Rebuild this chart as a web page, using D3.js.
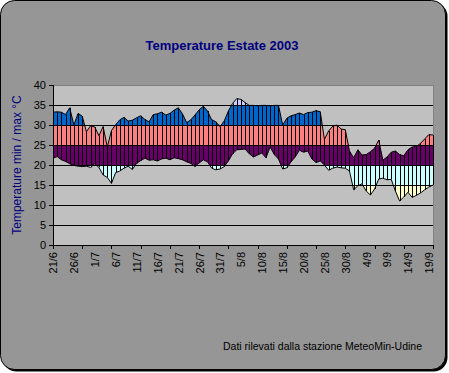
<!DOCTYPE html>
<html>
<head>
<meta charset="utf-8">
<script src="https://cdn.jsdelivr.net/npm/d3@7"></script>
<style>
  body { margin: 0; background: #fff; }
  svg { display: block; font-family: Arial, "Liberation Sans", sans-serif; }
</style>
</head>
<body>
<svg width="449" height="373"></svg>
<script>
// daily max / min temperatures, 21/6 .. 20/9 2003
var tmax = [33.2, 33.3, 33.2, 32.6, 34.3, 30.0, 32.9, 32.2, 28.3, 29.8,
            29.5, 27.3, 29.6, 24.5, 28.6, 30.1, 31.3, 31.9, 31.0, 31.2,
            31.8, 32.3, 31.4, 30.8, 32.6, 32.8, 33.2, 32.5, 32.9, 33.7,
            34.3, 32.8, 30.6, 31.3, 32.5, 33.8, 34.7, 33.5, 31.3, 30.8,
            29.6, 31.0, 33.5, 35.4, 36.6, 36.4, 35.6, 34.9, 34.9, 34.8,
            34.9, 34.9, 34.8, 34.9, 34.9, 30.0, 31.7, 32.3, 32.6, 33.0,
            32.6, 33.1, 33.2, 33.6, 33.3, 26.4, 28.5, 29.7, 30.0, 29.0,
            28.8, 23.5, 21.8, 23.8, 22.5, 22.6, 23.3, 24.2, 26.2, 21.2,
            22.0, 23.2, 23.5, 22.6, 22.3, 23.8, 24.5, 24.6, 25.4, 26.5,
            27.6, 27.5];
var tmin = [21.7, 22.1, 21.3, 20.9, 20.3, 19.9, 19.7, 19.6, 19.7, 19.4,
            20.3, 19.4, 17.5, 16.9, 15.4, 18.1, 18.5, 19.2, 19.7, 18.9,
            20.4, 21.1, 21.7, 21.2, 21.3, 21.0, 21.5, 21.7, 21.3, 21.8,
            21.6, 21.3, 20.8, 20.4, 19.6, 20.5, 21.3, 20.8, 19.2, 18.8,
            19.0, 19.6, 21.0, 22.8, 23.8, 23.9, 24.0, 22.8, 22.0, 22.5,
            23.0, 21.8, 24.5, 22.6, 21.5, 19.0, 19.3, 20.8, 22.0, 23.7,
            23.2, 23.5, 21.5, 20.6, 21.0, 20.0, 18.7, 19.2, 19.5, 19.3,
            19.2, 18.5, 13.8, 14.8, 15.3, 13.5, 12.5, 14.0, 16.5, 16.7,
            16.3, 16.4, 13.5, 11.0, 12.0, 13.2, 11.9, 12.4, 13.0, 13.8,
            14.5, 15.0];
var tickLabels = ["21/6", "26/6", "1/7", "6/7", "11/7", "16/7", "21/7", "26/7", "31/7",
                  "5/8", "10/8", "15/8", "20/8", "25/8", "30/8", "4/9", "9/9", "14/9", "19/9"];
var bandLimits = [10, 15, 20, 25, 30, 35, 40];
var bandColors = ["#ffffcc", "#ccffff", "#660066", "#ff8080", "#0066cc", "#ccccff"];

var fmt = d3.timeFormat("%-d/%-m");
var days = d3.timeDay.range(new Date(2003, 5, 21), new Date(2003, 8, 21)).map(fmt);

var svg = d3.select("svg"),
    margin = {top: 85, right: 16, bottom: 128, left: 53},
    width = 449 - margin.left - margin.right,
    height = 373 - margin.top - margin.bottom;

// chart background with shadow
svg.append("rect").attr("x", 2.5).attr("y", 2.5).attr("width", 445).attr("height", 369)
    .attr("rx", 14).attr("fill", "#000");
svg.append("rect").attr("x", 0.5).attr("y", 0.5).attr("width", 445).attr("height", 369)
    .attr("rx", 14).attr("fill", "#969696").attr("stroke", "#000");

var x = d3.scalePoint().domain(days).range([0, width]),
    y = d3.scaleLinear().domain([0, 40]).range([height, 0]);

var g = svg.append("g")
    .attr("transform", "translate(" + margin.left + "," + margin.top + ")");

g.append("rect").attr("width", width).attr("height", height)
    .attr("fill", "#c0c0c0").attr("stroke", "#808080").attr("shape-rendering", "crispEdges");

var area = d3.area()
    .x(function(d, i) { return x(days[i]); })
    .y0(function(d, i) { return y(tmin[i]); })
    .y1(function(d) { return y(d); });

var defs = svg.append("defs");
bandColors.forEach(function(c, k) {
  defs.append("clipPath").attr("id", "band" + k)
    .append("rect")
      .attr("x", 0).attr("width", width)
      .attr("y", y(bandLimits[k + 1]))
      .attr("height", y(bandLimits[k]) - y(bandLimits[k + 1]));
  g.append("path")
      .datum(tmax)
      .attr("clip-path", "url(#band" + k + ")")
      .attr("fill", c)
      .attr("d", area);
});

// drop lines
g.selectAll(".drop")
  .data(tmax)
  .enter().append("line")
    .attr("class", "drop")
    .attr("x1", function(d, i) { return Math.round(x(days[i])) + 0.5; })
    .attr("x2", function(d, i) { return Math.round(x(days[i])) + 0.5; })
    .attr("y1", function(d) { return y(d); })
    .attr("y2", function(d, i) { return y(tmin[i]); })
    .attr("stroke", "#000");

// gridlines
g.selectAll(".grid")
  .data(d3.range(5, 40, 5))
  .enter().append("line")
    .attr("class", "grid")
    .attr("x1", 0).attr("x2", width)
    .attr("y1", function(d) { return Math.round(y(d)) + 0.5; })
    .attr("y2", function(d) { return Math.round(y(d)) + 0.5; })
    .attr("stroke", "#000");

var line = d3.line().x(function(d, i) { return x(days[i]); }).y(function(d) { return y(d); });
g.append("path").datum(tmax).attr("fill", "none").attr("stroke", "#000").attr("d", line);
g.append("path").datum(tmin).attr("fill", "none").attr("stroke", "#000").attr("d", line);

// axes
var yAxis = g.append("g")
    .call(d3.axisLeft(y).tickValues(d3.range(0, 45, 5)).tickSize(4).tickPadding(3));
yAxis.selectAll("text").style("font-size", "11px").attr("fill", "#000");

var xTicks = g.append("g")
    .attr("transform", "translate(0," + height + ")")
    .call(d3.axisBottom(x).tickValues(days.filter(function(d, i) { return i % 7 === 0; }))
      .tickSize(4).tickFormat(""));

var xLabels = g.append("g")
    .attr("transform", "translate(0," + height + ")")
    .call(d3.axisBottom(x).tickValues(tickLabels).tickSize(0));
xLabels.select(".domain").remove();
xLabels.selectAll("text")
    .style("font-size", "11px")
    .attr("fill", "#000")
    .attr("transform", "rotate(-90)")
    .attr("x", -7).attr("y", 0).attr("dy", "0.35em")
    .style("text-anchor", "end");

g.selectAll(".domain, .tick line").attr("stroke", "#000").attr("shape-rendering", "crispEdges");

svg.append("text")
    .attr("x", 222).attr("y", 50)
    .attr("text-anchor", "middle")
    .style("font-size", "13px").style("font-weight", "bold")
    .attr("fill", "#000080")
    .text("Temperature Estate 2003");

svg.append("text")
    .attr("transform", "translate(21," + (margin.top + height / 2) + ") rotate(-90)")
    .attr("text-anchor", "middle")
    .style("font-size", "12px")
    .attr("fill", "#000080")
    .text("Temperature min / max °C");

svg.append("text")
    .attr("x", 223).attr("y", 350)
    .style("font-size", "10.5px")
    .attr("fill", "#000")
    .text("Dati rilevati dalla stazione MeteoMin-Udine");
</script>
</body>
</html>
